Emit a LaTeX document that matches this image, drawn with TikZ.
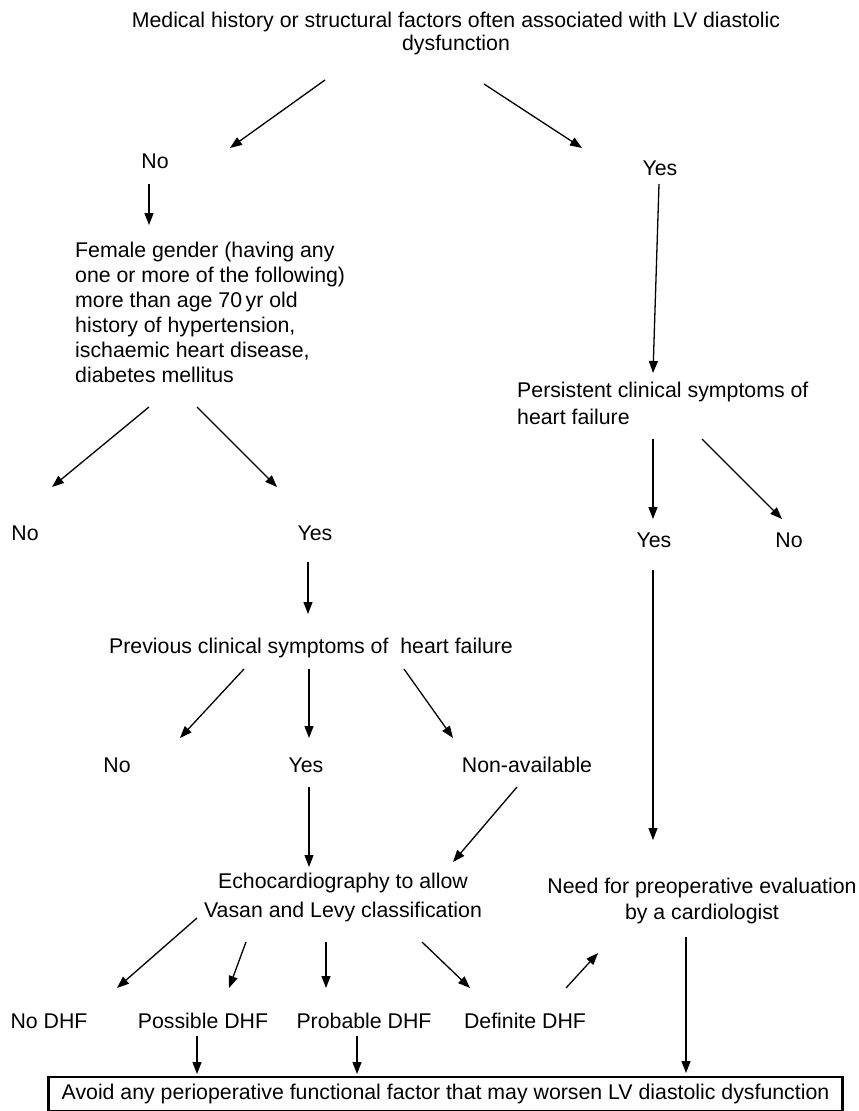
\documentclass[tikz,border=0pt]{standalone}
\usepackage{fontspec}
\setmainfont{Liberation Sans}
\usetikzlibrary{arrows.meta}
\begin{document}
\begin{tikzpicture}[x=1pt,y=-1pt,
  txt/.style={inner sep=0pt, font=\fontsize{21.3}{25.5}\selectfont},
  lbl/.style={txt, anchor=base},
  blk/.style={txt, align=left, anchor=north west},
  cblk/.style={txt, align=center, anchor=north},
  arr/.style={line width=1.3pt, -{Triangle[length=12pt,width=9pt]}},
  boxed/.style={txt, draw, line width=2.6pt, inner xsep=13pt, inner ysep=7pt}]
\useasboundingbox[fill=white] (0,0) rectangle (859,1111);

% nodes
\node[cblk, font=\fontsize{21.3}{23}\selectfont] (top) at (456,12) {Medical history or structural factors often associated with LV diastolic\\dysfunction};
\node[lbl] (no1) at (155,168) {No};
\node[lbl] (yes1) at (660,175) {Yes};
\node[blk, font=\fontsize{21.3}{25}\selectfont] (female) at (75,242) {Female gender (having any\\one or more of the following)\\more than age 70\,yr old\\history of hypertension,\\ischaemic heart disease,\\diabetes mellitus};
\node[blk, font=\fontsize{21.3}{26.5}\selectfont] (persist) at (517,382) {Persistent clinical symptoms of\\heart failure};
\node[lbl] (no2) at (25,540) {No};
\node[lbl] (yes2) at (315,540) {Yes};
\node[lbl] (yes3) at (654,547) {Yes};
\node[lbl] (no3) at (789,547) {No};
\node[lbl] (prev) at (311,653) {Previous clinical symptoms of \ heart failure};
\node[lbl] (no4) at (117,772) {No};
\node[lbl] (yes4) at (306,772) {Yes};
\node[lbl] (nonav) at (527,772) {Non-available};
\node[cblk, font=\fontsize{21.3}{29}\selectfont] (echo) at (343,873) {Echocardiography to allow\\Vasan and Levy classification};
\node[cblk, font=\fontsize{21.3}{26}\selectfont] (need) at (702,878) {Need for preoperative evaluation\\by a cardiologist};
\node[lbl] (nodhf) at (49,1028) {No DHF};
\node[lbl] (possdhf) at (203,1028) {Possible DHF};
\node[lbl] (probdhf) at (364,1028) {Probable DHF};
\node[lbl] (defdhf) at (525,1028) {Definite DHF};
\node[boxed] (avoid) at (445.5,1094) {Avoid any perioperative functional factor that may worsen LV diastolic dysfunction};

% connector end points
\coordinate (a1s) at (325,80);   \coordinate (a1e) at (230,148);
\coordinate (a2s) at (484,84);   \coordinate (a2e) at (582,148);
\coordinate (a3s) at (149,184);  \coordinate (a3e) at (149,225);
\coordinate (a4s) at (149,407);  \coordinate (a4e) at (52,487);
\coordinate (a5s) at (197,407);  \coordinate (a5e) at (277,487);
\coordinate (a6s) at (659,184);  \coordinate (a6e) at (653,373);
\coordinate (a7s) at (653,439);  \coordinate (a7e) at (653,519);
\coordinate (a8s) at (702,439);  \coordinate (a8e) at (782,519);
\coordinate (a9s) at (653,570);  \coordinate (a9e) at (653,840);
\coordinate (a10s) at (308,562); \coordinate (a10e) at (308,614);
\coordinate (a11s) at (244,669); \coordinate (a11e) at (180,738);
\coordinate (a12s) at (309,669); \coordinate (a12e) at (309,738);
\coordinate (a13s) at (404,669); \coordinate (a13e) at (453,738);
\coordinate (a14s) at (309,787); \coordinate (a14e) at (309,867);
\coordinate (a15s) at (517,787); \coordinate (a15e) at (453,862);
\coordinate (a16s) at (197,918); \coordinate (a16e) at (117,988);
\coordinate (a17s) at (246,942); \coordinate (a17e) at (229,988);
\coordinate (a18s) at (326,942); \coordinate (a18e) at (326,988);
\coordinate (a19s) at (422,942); \coordinate (a19e) at (470,988);
\coordinate (a20s) at (566,988); \coordinate (a20e) at (598,953);
\coordinate (a21s) at (197,1036); \coordinate (a21e) at (197,1074);
\coordinate (a22s) at (357,1036); \coordinate (a22e) at (357,1074);
\coordinate (a23s) at (686,937); \coordinate (a23e) at (686,1073);

\foreach \i in {1,...,23} {\draw[arr] (a\i s) -- (a\i e);}
\end{tikzpicture}
\end{document}
